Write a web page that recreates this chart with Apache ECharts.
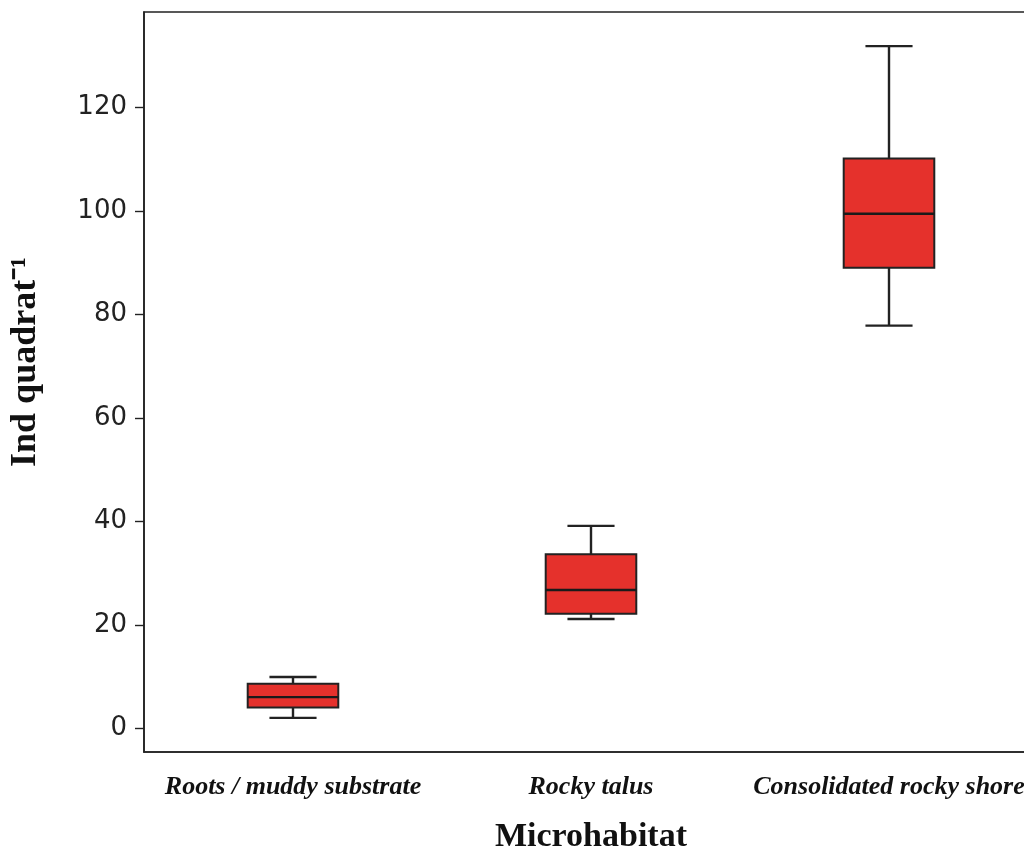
<!DOCTYPE html>
<html><head><meta charset="utf-8">
<script src="https://cdn.jsdelivr.net/npm/echarts@6/dist/echarts.min.js"></script>
<style>html,body{margin:0;padding:0;background:#fff;overflow:hidden}#c{width:1024px;height:848px}</style>
</head><body><div id="c"></div>
<script>
const categories = ['Roots / muddy substrate', 'Rocky talus', 'Consolidated rocky shore'];
const whiskerLow = [2.1, 21.2, 77.9];
const q1 = [4.1, 22.2, 89.1];
const median = [6.1, 26.8, 99.5];
const q3 = [8.7, 33.7, 110.2];
const whiskerHigh = [10.0, 39.2, 131.9];
const yTicks = [0, 20, 40, 60, 80, 100, 120];

const data = categories.map((c, i) => [i, whiskerLow[i], q1[i], median[i], q3[i], whiskerHigh[i]]);

const chart = echarts.init(document.getElementById('c'), null, {renderer: 'canvas'});
const lineCol = '#222222';
chart.setOption({
  animation: false,
  backgroundColor: '#fff',
  grid: {left: 144, top: 12, right: -14, bottom: 96, outerBoundsMode: 'none', containLabel: false,
         show: true, borderColor: lineCol, borderWidth: 1.6, backgroundColor: 'transparent'},
  xAxis: {
    type: 'category', data: categories, boundaryGap: true,
    axisLine: {onZero: false, lineStyle: {color: lineCol, width: 1.6}},
    axisTick: {alignWithLabel: true, length: 7, lineStyle: {color: lineCol, width: 1.4}},
    axisLabel: {interval: 0, margin: 22, color: '#111', fontFamily: 'Liberation Serif', fontWeight: 'bold', fontStyle: 'italic', fontSize: 26},
    name: 'Microhabitat', nameLocation: 'middle', nameGap: 68,
    nameTextStyle: {fontFamily: 'Liberation Serif', fontWeight: 'bold', fontSize: 34, color: '#111'}
  },
  yAxis: {
    type: 'value', min: -4.5, max: 138.5,
    splitLine: {show: false},
    axisLine: {show: true, lineStyle: {color: lineCol, width: 1.6}},
    axisTick: {show: true, length: 9, customValues: yTicks, lineStyle: {color: lineCol, width: 1.4}},
    axisLabel: {customValues: yTicks, margin: 17, color: '#222', fontFamily: 'DejaVu Sans', fontSize: 26},
    name: 'Ind quadrat\u207B\u00B9', nameLocation: 'middle', nameGap: 100, nameRotate: 90,
    nameTextStyle: {fontFamily: 'Liberation Serif', fontWeight: 'bold', fontSize: 36, color: '#111', padding: [0, 0, 0, 40]}
  },
  series: [{
    type: 'custom',
    data: data,
    encode: {x: 0, y: [1, 2, 3, 4, 5]},
    renderItem: function (params, api) {
      const x = api.value(0);
      const pLow = api.coord([x, api.value(1)]);
      const pQ1 = api.coord([x, api.value(2)]);
      const pMed = api.coord([x, api.value(3)]);
      const pQ3 = api.coord([x, api.value(4)]);
      const pHigh = api.coord([x, api.value(5)]);
      const band = api.size([1, 0])[0];
      const hw = band * 0.152;
      const cw = hw * 0.52;
      const cx = pMed[0];
      const ls = {stroke: lineCol, lineWidth: 2.4};
      return {
        type: 'group',
        children: [
          {type: 'line', shape: {x1: cx, y1: pQ3[1], x2: cx, y2: pHigh[1]}, style: ls},
          {type: 'line', shape: {x1: cx, y1: pQ1[1], x2: cx, y2: pLow[1]}, style: ls},
          {type: 'line', shape: {x1: cx - cw, y1: pHigh[1], x2: cx + cw, y2: pHigh[1]}, style: ls},
          {type: 'line', shape: {x1: cx - cw, y1: pLow[1], x2: cx + cw, y2: pLow[1]}, style: ls},
          {type: 'rect', shape: {x: cx - hw, y: pQ3[1], width: 2 * hw, height: pQ1[1] - pQ3[1]}, style: {fill: '#E5312C', stroke: lineCol, lineWidth: 2}},
          {type: 'line', shape: {x1: cx - hw, y1: pMed[1], x2: cx + hw, y2: pMed[1]}, style: {stroke: '#1a1a1a', lineWidth: 2.4}}
        ]
      };
    }
  }]
});
</script></body></html>
